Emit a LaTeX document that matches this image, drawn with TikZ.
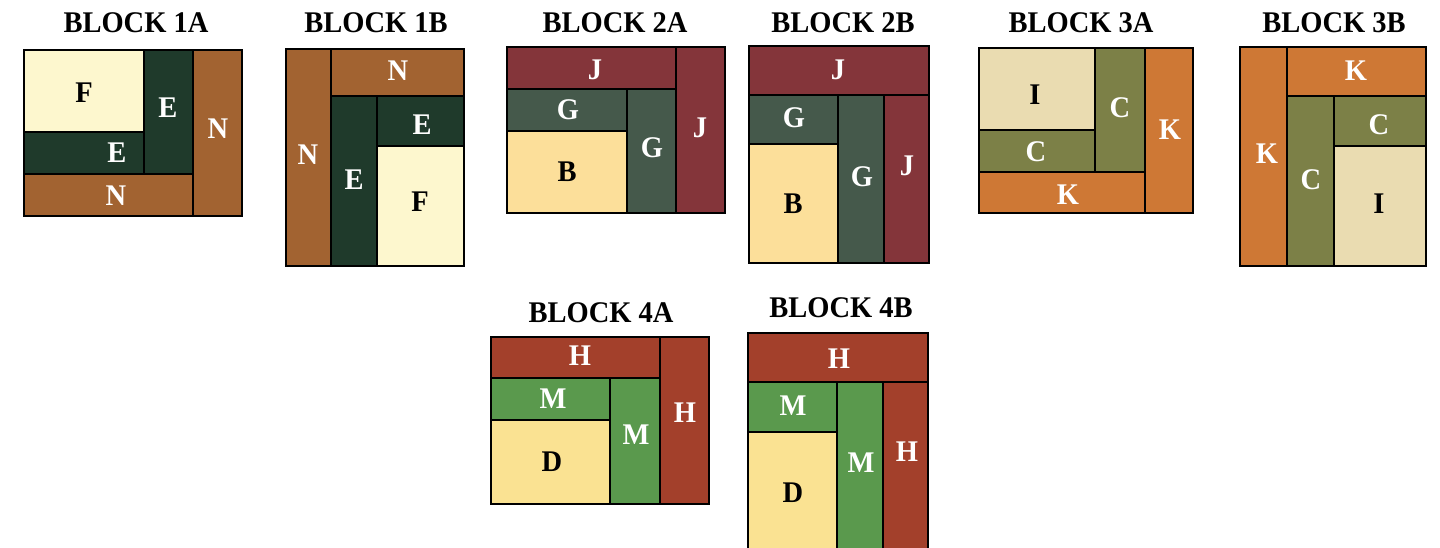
\documentclass[tikz,border=0pt]{standalone}
\usepackage{fontspec}
\setmainfont{Liberation Serif}[FakeStretch=0.95]
\definecolor{cF}{HTML}{FDF7CE}
\definecolor{cE}{HTML}{1F3A2B}
\definecolor{cN}{HTML}{A26331}
\definecolor{cJ}{HTML}{84353A}
\definecolor{cG}{HTML}{45594B}
\definecolor{cB}{HTML}{FCDF9A}
\definecolor{cI}{HTML}{EADCB1}
\definecolor{cC}{HTML}{7C8047}
\definecolor{cK}{HTML}{CE7835}
\definecolor{cH}{HTML}{A3402B}
\definecolor{cM}{HTML}{5A994D}
\definecolor{cD}{HTML}{FAE292}
\colorlet{tF}{black}\colorlet{tB}{black}\colorlet{tI}{black}\colorlet{tD}{black}
\colorlet{tE}{white}\colorlet{tN}{white}\colorlet{tJ}{white}\colorlet{tG}{white}
\colorlet{tC}{white}\colorlet{tK}{white}\colorlet{tH}{white}\colorlet{tM}{white}
\tikzset{
  cell/.style={draw=black, line width=2.4pt},
  lab/.style={font=\fontsize{30}{30}\selectfont\bfseries, inner sep=0pt, text height=19.8pt, text depth=0pt},
  ttl/.style={lab, text=black}
}
\newcommand\pc[9]{\draw[cell, fill=c#5] (#1,#2) rectangle (#3,#4); \node[lab, text=t#5] (#9) at (#7,#8) {#6};}
\begin{document}
\begin{tikzpicture}[x=1pt, y=-1pt]
\useasboundingbox (0,0) rectangle (1440,547);
\clip (0,0) rectangle (1440,547);
% titles
\node[ttl] (t1a) at (136,23) {BLOCK 1A};
\node[ttl] (t1b) at (376,23) {BLOCK 1B};
\node[ttl] (t2a) at (615,23) {BLOCK 2A};
\node[ttl] (t2b) at (843,23) {BLOCK 2B};
\node[ttl] (t3a) at (1081,23) {BLOCK 3A};
\node[ttl] (t3b) at (1334,23) {BLOCK 3B};
\node[ttl] (t4a) at (601,313) {BLOCK 4A};
\node[ttl] (t4b) at (841,308) {BLOCK 4B};
% block 1A
\pc{24}{50}{144}{132}{F}{F}{84}{93}{a1f}
\pc{24}{132}{144}{174}{E}{E}{117}{153}{a1e1}
\pc{144}{50}{193}{174}{E}{E}{168}{108}{a1e2}
\pc{24}{174}{193}{216}{N}{N}{116}{196}{a1n1}
\pc{193}{50}{242}{216}{N}{N}{218}{129}{a1n2}
% block 1B
\pc{286}{49}{331}{266}{N}{N}{308}{155}{b1n1}
\pc{331}{49}{464}{96}{N}{N}{398}{71}{b1n2}
\pc{331}{96}{377}{266}{E}{E}{354}{180}{b1e1}
\pc{377}{96}{464}{146}{E}{E}{422}{125}{b1e2}
\pc{377}{146}{464}{266}{F}{F}{420}{202}{b1f}
% block 2A
\pc{507}{47}{676}{89}{J}{J}{595}{70}{a2j1}
\pc{676}{47}{725}{213}{J}{J}{700}{128}{a2j2}
\pc{507}{89}{627}{131}{G}{G}{568}{110}{a2g1}
\pc{507}{131}{627}{213}{B}{B}{567}{172}{a2b}
\pc{627}{89}{676}{213}{G}{G}{652}{148}{a2g2}
% block 2B
\pc{749}{46}{929}{95}{J}{J}{838}{70}{b2j1}
\pc{749}{95}{838}{144}{G}{G}{794}{118}{b2g1}
\pc{749}{144}{838}{263}{B}{B}{793}{204}{b2b}
\pc{838}{95}{884}{263}{G}{G}{862}{177}{b2g2}
\pc{884}{95}{929}{263}{J}{J}{907}{166}{b2j2}
% block 3A
\pc{979}{48}{1095}{130}{I}{I}{1035}{95}{a3i}
\pc{979}{130}{1095}{172}{C}{C}{1036}{152}{a3c1}
\pc{1095}{48}{1145}{172}{C}{C}{1120}{108}{a3c2}
\pc{979}{172}{1145}{213}{K}{K}{1068}{195}{a3k1}
\pc{1145}{48}{1193}{213}{K}{K}{1170}{130}{a3k2}
% block 3B
\pc{1240}{47}{1287}{266}{K}{K}{1267}{154}{b3k1}
\pc{1287}{47}{1426}{96}{K}{K}{1356}{71}{b3k2}
\pc{1287}{96}{1334}{266}{C}{C}{1311}{180}{b3c1}
\pc{1334}{96}{1426}{146}{C}{C}{1379}{125}{b3c2}
\pc{1334}{146}{1426}{266}{I}{I}{1379}{204}{b3i}
% block 4A
\pc{491}{337}{660}{378}{H}{H}{580}{356}{a4h1}
\pc{660}{337}{709}{504}{H}{H}{685}{413}{a4h2}
\pc{491}{378}{610}{420}{M}{M}{553}{399}{a4m1}
\pc{491}{420}{610}{504}{D}{D}{552}{462}{a4d}
\pc{610}{378}{660}{504}{M}{M}{636}{435}{a4m2}
% block 4B
\pc{748}{333}{928}{382}{H}{H}{839}{359}{b4h1}
\pc{748}{382}{837}{432}{M}{M}{793}{406}{b4m1}
\pc{748}{432}{837}{560}{D}{D}{793}{493}{b4d}
\pc{837}{382}{883}{560}{M}{M}{861}{463}{b4m2}
\pc{883}{382}{928}{560}{H}{H}{907}{452}{b4h2}
\end{tikzpicture}
\end{document}
